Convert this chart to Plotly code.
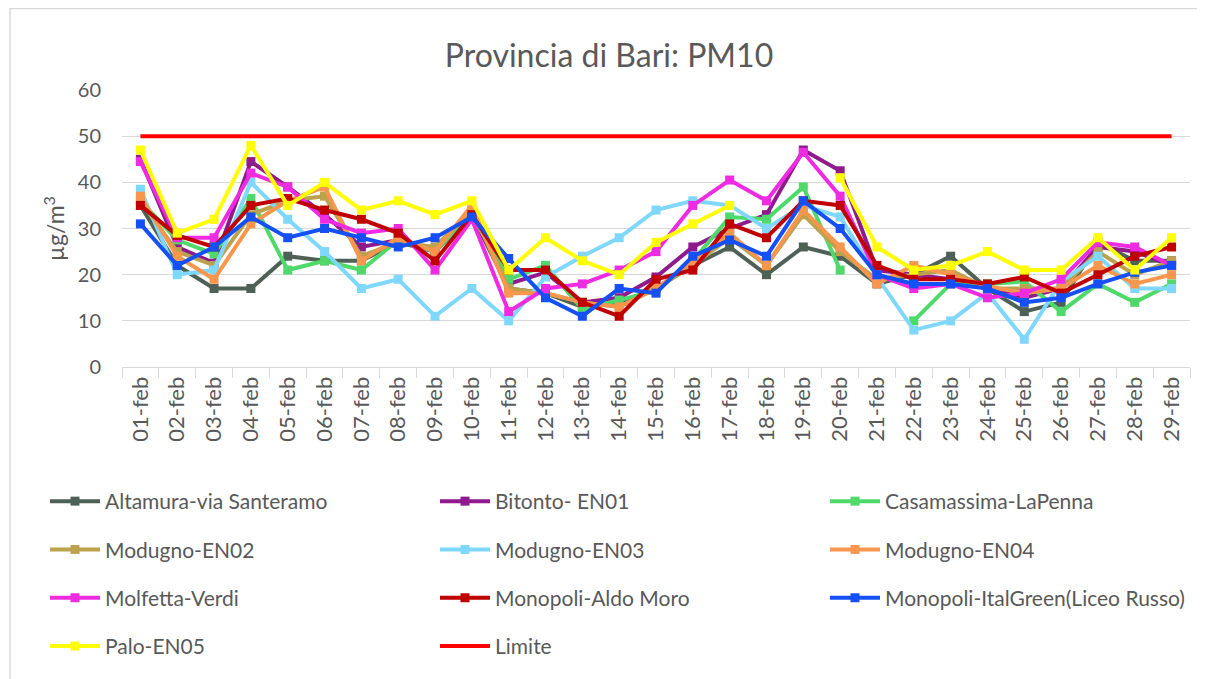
import plotly.graph_objects as go

days = ["01-feb", "02-feb", "03-feb", "04-feb", "05-feb", "06-feb", "07-feb", "08-feb", "09-feb", "10-feb",
        "11-feb", "12-feb", "13-feb", "14-feb", "15-feb", "16-feb", "17-feb", "18-feb", "19-feb", "20-feb",
        "21-feb", "22-feb", "23-feb", "24-feb", "25-feb", "26-feb", "27-feb", "28-feb", "29-feb"]

altamura = [35, 22, 17, 17, 24, 23, 23, 27, 25, 33, 17, 16, 13, 14, 17, 22, 26, 20, 26, 24, 18, 20, 24, 17, 12, 14, 27, 23, 23]
bitonto = [45, 26, 22.5, 44.5, 39, 33, 26, 27.5, 25, 33, 18, 20.5, 14, 15, 19.5, 26, 30, 33, 47, 42.5, 21, 20, 19, 17, 15, 17, 26, 25, 22]
casamassima = [36, 27.5, 24.5, 36.5, 21, 23, 21, 27.5, 25, 33, 19, 22, 12.5, 14.5, 16.5, 23, 32.5, 32, 39, 21, None, 10, 18, 18, 18.5, 12, 18, 14, 18]
modugno_en02 = [36, 25, 22, 33, 36, 37, 24, 27, 26, 34, 17, 16, 14, 13, 17, 22, 28, 22, 33, 25, 19, 20, 21, 17, 17, 17, 25, 20, 23]
modugno_en03 = [38.5, 20, 21, 40, 32, 25, 17, 19, 11, 17, 10, 19.5, 24, 28, 34, 36, 35, 30, 35, 32.5, 19.5, 8, 10, 16, 6, 18.5, 24, 17, 17]
modugno_en04 = [37, 24, 19, 31, 36, 39, 23, 28, 25, 35, 16, 16, 14, 13, 17, 23, 29, 22, 34, 26, 18, 22, 20, 17.5, 16, 17, 22, 18, 20]
molfetta = [44.5, 28, 28, 42, 39, 32, 29, 30, 21, 32, 12, 17, 18, 21, 25, 35, 40.5, 36, 46.5, 37, 20, 17, 18, 15, 16, 19, 27, 26, 22]
monopoli_am = [35, 28.5, 26, 35, 36.5, 34, 32, 29, 23, 33, 21, 21, 14, 11, 19, 21, 31, 28, 36, 35, 22, 19, 19, 18, 19.5, 16, 20, 24, 26]
monopoli_ig = [31, 22, 26, 32.5, 28, 30, 28, 26, 28, 32.5, 23.5, 15, 11, 17, 16, 24, 27.5, 24, 36, 30, 20, 18, 18, 17, 14, 15, 18, 20.5, 22]
palo = [47, 29, 32, 48, 35, 40, 34, 36, 33, 36, 21, 28, 23, 20, 27, 31, 35, None, None, 41, 26, 21, 22, 25, 21, 21, 28, 21, 28]
limite = [50] * 29

series = [
    ("Altamura-via Santeramo", altamura, "#4e6157", "legend"),
    ("Bitonto- EN01", bitonto, "#8e1a8e", "legend2"),
    ("Casamassima-LaPenna", casamassima, "#4fd96a", "legend3"),
    ("Modugno-EN02", modugno_en02, "#bca24c", "legend"),
    ("Modugno-EN03", modugno_en03, "#7fd8fb", "legend2"),
    ("Modugno-EN04", modugno_en04, "#f7964c", "legend3"),
    ("Molfetta-Verdi", molfetta, "#ef2be2", "legend"),
    ("Monopoli-Aldo Moro", monopoli_am, "#c00000", "legend2"),
    ("Monopoli-ItalGreen(Liceo Russo)", monopoli_ig, "#1450f5", "legend3"),
    ("Palo-EN05", palo, "#ffff00", "legend"),
]

FONT = "Lato"
GREY = "#595959"

fig = go.Figure()
for name, vals, color, leg in series:
    fig.add_trace(go.Scatter(
        x=days, y=vals, name=name, mode="lines+markers",
        line=dict(color=color, width=4),
        marker=dict(symbol="square", size=9, color=color),
        connectgaps=False, legend=leg, legendgroup=name,
    ))

fig.add_trace(go.Scatter(
    x=days, y=limite, name="Limite", mode="lines",
    line=dict(color="#ff0000", width=4), legend="legend2", legendgroup="Limite",
))

# page has an 8px body margin, so figure coordinates = page coordinates - 8
PLOT_L, PLOT_R, PLOT_T, PLOT_B = 114, 1182, 82, 359
W, H = 1205, 679
pw = PLOT_R - PLOT_L
ph = PLOT_B - PLOT_T

def lx(px):
    return (px - PLOT_L) / pw

def ly(py):
    return (PLOT_B - py) / ph

legend_common = dict(
    orientation="v", xanchor="left", yanchor="top",
    font=dict(family=FONT, size=21, color=GREY),
    itemwidth=50, tracegroupgap=18, bgcolor="rgba(0,0,0,0)",
    traceorder="grouped",
)

fig.update_layout(
    width=W, height=H,
    margin=dict(l=PLOT_L, r=W - PLOT_R, t=PLOT_T, b=H - PLOT_B),
    paper_bgcolor="white", plot_bgcolor="white",
    font=dict(family=FONT, color=GREY),
    title=dict(text="Provincia di Bari: PM10", x=(609 - 8) / W, xref="container", xanchor="center",
               y=1 - 48 / H, yref="container", yanchor="middle",
               font=dict(family=FONT, size=32, color=GREY)),
    xaxis=dict(type="category", tickangle=-90, tickfont=dict(family=FONT, size=22, color=GREY),
               showgrid=False, showline=True, linecolor="#d9d9d9", linewidth=1,
               ticks="outside", tickson="boundaries", ticklen=10, tickcolor="#d9d9d9",
               range=[-0.5, 28.5]),
    yaxis=dict(range=[0, 60], dtick=10, tick0=0, showgrid=True, gridcolor="#d9d9d9", gridwidth=1,
               zeroline=False, showline=False, ticks="", ticklabelstandoff=20,
               tickfont=dict(family=FONT, size=20, color=GREY),
               title=dict(text="µg/m<sup>3</sup>", font=dict(family=FONT, size=23, color=GREY), standoff=6)),
    legend=dict(x=lx(37), y=ly(473), **legend_common),
    legend2=dict(x=lx(427), y=ly(473), **legend_common),
    legend3=dict(x=lx(817), y=ly(473), **legend_common),
    showlegend=True,
)

fig.add_shape(type="rect", xref="paper", yref="paper",
              x0=lx(2), x1=lx(1300), y0=ly(800), y1=ly(0.5),
              line=dict(color="#d9d9d9", width=1.5), fillcolor="rgba(0,0,0,0)", layer="below")

fig.write_html("out.html")
